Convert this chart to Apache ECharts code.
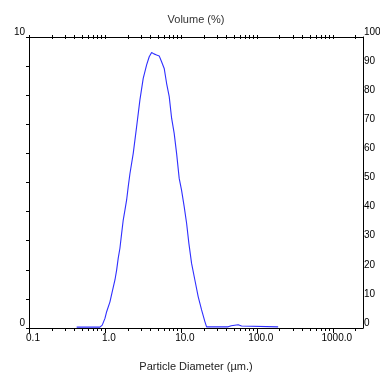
<!DOCTYPE html>
<html>
<head>
<meta charset="utf-8">
<script src="https://cdn.jsdelivr.net/npm/echarts@6/dist/echarts.min.js"></script>
<style>html,body{margin:0;padding:0;background:#fff;}#c{width:380px;height:374px;}</style>
</head>
<body>
<div id="c"></div>
<script>
// Particle size distribution
const diameters = [0.424, 0.859, 0.921, 1.0, 1.053, 1.164, 1.248, 1.354, 1.425, 1.496, 1.575, 1.659, 1.741, 1.833, 1.930, 2.026, 2.133, 2.358, 2.613, 2.888, 3.191, 3.538, 3.828, 4.117, 4.412, 4.79, 5.18, 5.57, 6.03, 6.48, 7.02, 7.55, 8.16, 8.78, 9.50, 10.2, 11.05, 11.89, 12.74, 13.83, 15.28, 16.89, 18.73, 20.7, 21.79, 41.9, 46, 56.8, 62.9, 66, 190.7];
const volumes = [0.03, 0.03, 0.10, 0.33, 0.56, 0.90, 1.25, 1.65, 1.99, 2.40, 2.74, 3.25, 3.71, 4.05, 4.40, 4.86, 5.30, 6.00, 6.92, 7.84, 8.58, 9.04, 9.32, 9.47, 9.42, 9.38, 9.35, 9.15, 8.92, 8.41, 7.95, 7.21, 6.69, 6.00, 5.14, 4.74, 4.17, 3.60, 2.91, 2.22, 1.65, 1.08, 0.62, 0.22, 0.04, 0.04, 0.08, 0.11, 0.07, 0.04, 0.04];
const majorTicks = [0.1, 1, 10, 100, 1000];
const minorTicks = [0.2, 0.3, 0.4, 0.5, 0.6, 0.7, 0.8, 0.9, 2, 3, 4, 5, 6, 7, 8, 9, 20, 30, 40, 50, 60, 70, 80, 90, 200, 300, 400, 500, 600, 700, 800, 900, 2000];
const allTicks = majorTicks.concat(minorTicks);
const xMin = 0.1, xMax = 2500;

const FONT = 'Liberation Sans';
const black = '#000';
const chart = echarts.init(document.getElementById('c'), null, {renderer: 'canvas'});
const baseLog = {type: 'log', logBase: 10, min: xMin, max: xMax, splitLine: {show: false}, gridIndex: 0};
chart.setOption({
  animation: false,
  backgroundColor: '#fff',
  grid: {left: 29, right: 17, top: 37, bottom: 46, containLabel: false, outerBoundsMode: 'none'},
  xAxis: [
    Object.assign({}, baseLog, {
      position: 'bottom',
      name: 'Particle Diameter (µm.)', nameLocation: 'middle', nameGap: 33,
      nameTextStyle: {fontFamily: FONT, fontSize: 11, color: '#222'},
      axisLine: {show: true, lineStyle: {color: black, width: 1}},
      axisTick: {show: true, length: 5, lineStyle: {color: black}, customValues: majorTicks},
      axisLabel: {show: true, customValues: majorTicks, fontFamily: FONT, fontSize: 10, color: black, margin: 5,
        padding: [0, 0, 0, 8], formatter: v => Number(v).toFixed(1)}
    }),
    Object.assign({}, baseLog, {
      position: 'bottom',
      axisLine: {show: false},
      axisTick: {show: true, length: 3, lineStyle: {color: black}, customValues: minorTicks},
      axisLabel: {show: false}
    }),
    Object.assign({}, baseLog, {
      position: 'top',
      name: 'Volume (%)', nameLocation: 'middle', nameGap: 12,
      nameTextStyle: {fontFamily: FONT, fontSize: 11, color: '#333'},
      axisLine: {show: true, lineStyle: {color: black, width: 1}},
      axisTick: {show: true, length: 2, inside: false, lineStyle: {color: black}, customValues: allTicks},
      axisLabel: {show: false}
    }),
    Object.assign({}, baseLog, {
      position: 'top',
      axisLine: {show: false},
      axisTick: {show: true, length: 2, inside: true, lineStyle: {color: black}, customValues: allTicks},
      axisLabel: {show: false}
    })
  ],
  yAxis: [
    {
      type: 'value', position: 'left', min: 0, max: 10, interval: 1,
      splitLine: {show: false},
      axisLine: {show: true, lineStyle: {color: black, width: 1}},
      axisTick: {show: true, length: 3, lineStyle: {color: black}},
      axisLabel: {show: true, fontFamily: FONT, fontSize: 10, color: black, margin: 4,
        verticalAlign: 'bottom', formatter: v => (v === 0 || v === 10) ? String(v) : ''}
    },
    {
      type: 'value', position: 'right', min: 0, max: 100, interval: 10,
      splitLine: {show: false},
      axisLine: {show: true, lineStyle: {color: black, width: 1}},
      axisTick: {show: false},
      axisLabel: {show: true, fontFamily: FONT, fontSize: 10, color: black, margin: 1,
        verticalAlign: 'bottom'}
    }
  ],
  series: [{
    type: 'line',
    xAxisIndex: 0, yAxisIndex: 0,
    data: diameters.map((d, i) => [d, volumes[i]]),
    showSymbol: false, smooth: false,
    lineStyle: {color: '#2f2fff', width: 1.1},
    clip: false
  }]
});
</script>
</body>
</html>
